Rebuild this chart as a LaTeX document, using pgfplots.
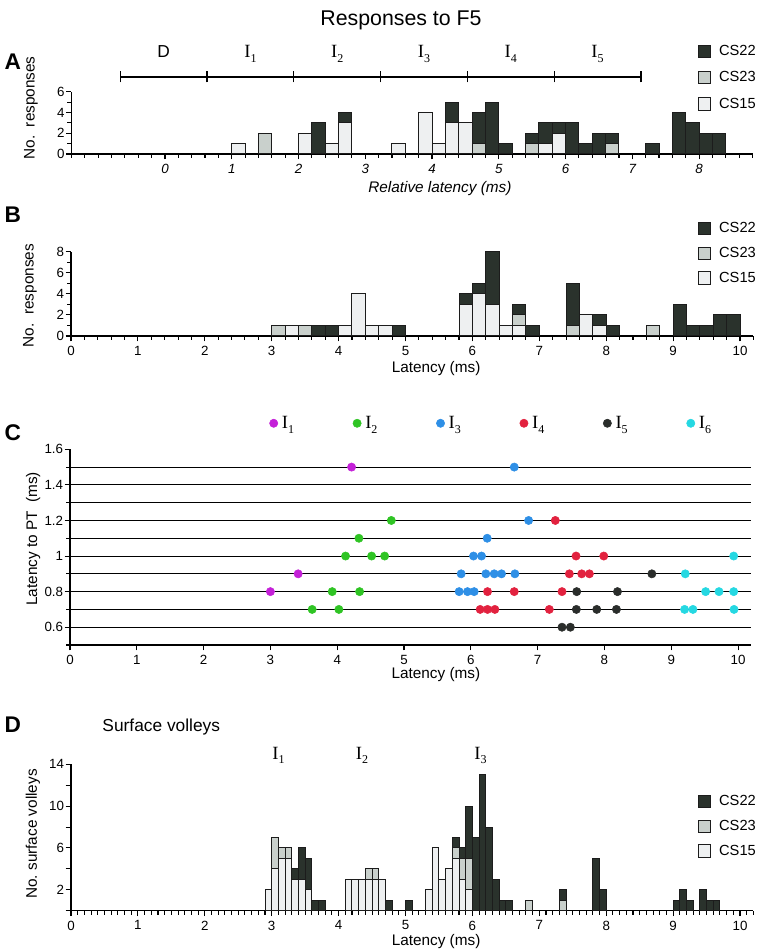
\documentclass[border=0pt]{standalone}
\usepackage{fontspec}
\setmainfont{Liberation Sans}
\newfontfamily\serif{Liberation Serif}
\usepackage{pgfplots}
\usepackage{pgfplotstable}
\pgfplotsset{compat=1.18}

\definecolor{cdark}{HTML}{2A322C}
\definecolor{cmid}{HTML}{C9D0CC}
\definecolor{clight}{HTML}{EEF0F1}
\definecolor{cedge}{HTML}{1C1C1C}
\definecolor{cIa}{HTML}{C420D8}
\definecolor{cIb}{HTML}{2FC424}
\definecolor{cIc}{HTML}{2E8FE6}
\definecolor{cId}{HTML}{E2223F}
\definecolor{cIe}{HTML}{2A2D2B}
\definecolor{cIf}{HTML}{25D8E2}

\newcommand{\Isub}[1]{{\serif\fontsize{14}{14}\selectfont I\raisebox{-3.6pt}[0pt][0pt]{\fontsize{9}{9}\selectfont #1}}}

% Panel A: relative latency, 0.2 ms bins (bin centres)
\pgfplotstableread{
x c15 c23 c22
1.1 1 0 0
1.5 0 2 0
2.1 2 0 0
2.3 0 0 3
2.5 1 0 0
2.7 3 0 1
3.5 1 0 0
3.9 4 0 0
4.1 1 0 0
4.3 3 0 2
4.5 3 0 0
4.7 0 1 3
4.9 0 0 5
5.1 0 0 1
5.5 0 1 1
5.7 1 0 2
5.9 2 0 1
6.1 0 0 3
6.3 0 0 1
6.5 0 0 2
6.7 0 1 1
7.3 0 0 1
7.7 0 0 4
7.9 0 0 3
8.1 0 0 2
8.3 0 0 2
}\dataA

% Panel B: latency, 0.2 ms bins
\pgfplotstableread{
x c15 c23 c22
3.1 0 1 0
3.3 1 0 0
3.5 0 1 0
3.7 0 0 1
3.9 0 0 1
4.1 1 0 0
4.3 4 0 0
4.5 1 0 0
4.7 1 0 0
4.9 0 0 1
5.9 3 0 1
6.1 4 0 1
6.3 3 0 5
6.5 1 0 0
6.7 1 1 1
6.9 0 0 1
7.5 0 1 4
7.7 2 0 0
7.9 1 0 1
8.1 0 0 1
8.7 0 1 0
9.1 0 0 3
9.3 0 0 1
9.5 0 0 1
9.7 0 0 2
9.9 0 0 2
}\dataB

% Panel D: surface volleys, 0.1 ms bins
\pgfplotstableread{
x c15 c23 c22
2.95 2 0 0
3.05 4 3 0
3.15 5 1 0
3.25 5 1 0
3.35 3 0 1
3.45 3 0 3
3.55 2 0 3
3.65 0 0 1
3.75 0 0 1
4.15 3 0 0
4.25 3 0 0
4.35 3 0 0
4.45 3 1 0
4.55 3 1 0
4.65 3 0 0
4.75 0 0 1
5.05 0 0 1
5.35 2 0 0
5.45 6 0 0
5.55 3 0 0
5.65 4 0 0
5.75 5 1 1
5.85 3 2 1
5.95 2 3 5
6.05 0 0 7
6.15 0 0 13
6.25 0 0 8
6.35 0 0 3
6.45 0 0 1
6.55 0 0 1
6.85 0 1 0
7.35 0 1 1
7.85 0 0 5
7.95 0 0 2
9.05 0 0 1
9.15 0 0 2
9.25 0 0 1
9.45 0 0 2
9.55 0 0 1
9.65 0 0 1
}\dataD

\pgfplotsset{
  panel/.style={
    scale only axis, anchor=south west,
    axis lines=left, axis line style={-, line width=0.85pt, black},
    tick align=outside, major tick length=4pt, minor tick length=3pt,
    tick style={black, line width=0.8pt},
    /pgf/number format/assume math mode=true,
    tick label style={font=\fontsize{10}{12}\selectfont},
    yticklabel style={inner xsep=1pt},
    label style={font=\fontsize{11.5}{13}\selectfont},
    clip=false,
  },
  barpanel/.style={panel, ybar stacked, bar width=#1,
    legend image code/.code={\draw[##1, line width=0.75pt] (0pt,-4.6pt) rectangle (8.8pt,4.6pt);},
    reverse legend, legend cell align=left,
  },
  barleg/.style 2 args={legend style={at={(#1)}, anchor=north west, draw=none, fill=none,
    inner sep=0pt, row sep=#2, font=\fontsize{11}{13}\selectfont, nodes={inner sep=1pt},
    /tikz/every odd column/.append style={column sep=5pt}}},
}

\begin{document}
\begin{tikzpicture}[x=0.75pt,y=0.75pt]
\path[use as bounding box] (0,0) rectangle (760,951);

\node[font=\fontsize{16}{18}\selectfont] at (401,931) {Responses to F5};
\node[font=\bfseries\fontsize{17}{17}\selectfont, anchor=west] at (0,889) {A};
\node[font=\bfseries\fontsize{17}{17}\selectfont, anchor=west] at (0,736) {B};
\node[font=\bfseries\fontsize{17}{17}\selectfont, anchor=west] at (0,518) {C};
\node[font=\bfseries\fontsize{17}{17}\selectfont, anchor=west] at (0,226) {D};

% ---------------- A ----------------
\begin{axis}[barpanel=0.2, at={(53.625pt,597.75pt)}, width=510.75pt, height=46.725pt,
  xmin=-1.4, xmax=8.8, ymin=0, ymax=6,
  xtick={0,1,...,8}, minor xtick={-1.4,-1.2,...,8.8},
  ytick={0,2,4,6}, minor ytick={1,3,5},
  xticklabel style={font=\itshape\fontsize{10}{12}\selectfont},
  xlabel={\itshape Relative latency (ms)}, ylabel={No.\ \ responses},
  xlabel style={at={(axis description cs:0.541,-0.56)}, anchor=center},
  ylabel style={at={(axis description cs:-0.0595,0.74)}, anchor=center},
  barleg={0.92,1.77}{8.5pt},
]
\addplot[fill=clight, draw=cedge, line width=0.75pt] table[x=x,y=c15]{\dataA};
\addlegendentry{CS15}
\addplot[fill=cmid, draw=cedge, line width=0.75pt] table[x=x,y=c23]{\dataA};
\addlegendentry{CS23}
\addplot[fill=cdark, draw=cedge, line width=0.75pt] table[x=x,y=c22]{\dataA};
\addlegendentry{CS22}
\draw[black, line width=0.9pt] (axis cs:-0.67,7.42) -- (axis cs:7.13,7.42);
\pgfplotsinvokeforeach{-0.67,0.63,1.93,3.23,4.53,5.83,7.13}{
  \draw[black, line width=0.9pt] (axis cs:#1,6.9) -- (axis cs:#1,7.95);
}
\node[font=\fontsize{13}{13}\selectfont] at (axis cs:-0.02,9.9) {D};
\node at (axis cs:1.28,9.9) {\Isub{1}};
\node at (axis cs:2.58,9.9) {\Isub{2}};
\node at (axis cs:3.88,9.9) {\Isub{3}};
\node at (axis cs:5.18,9.9) {\Isub{4}};
\node at (axis cs:6.48,9.9) {\Isub{5}};
\end{axis}

% ---------------- B ----------------
\begin{axis}[barpanel=0.2, at={(53.25pt,461.25pt)}, width=511.8pt, height=63.225pt,
  xmin=0, xmax=10.2, ymin=0, ymax=8,
  xtick={0,1,...,10}, minor xtick={0,0.2,...,10.2},
  ytick={0,2,4,6,8}, minor ytick={1,3,5,7},
  xlabel={Latency (ms)}, ylabel={No.\ \ responses},
  xlabel style={at={(axis description cs:0.535,-0.39)}, anchor=center},
  ylabel style={at={(axis description cs:-0.06,0.48)}, anchor=center},
  barleg={0.919,1.368}{7.4pt},
]
\addplot[fill=clight, draw=cedge, line width=0.75pt] table[x=x,y=c15]{\dataB};
\addlegendentry{CS15}
\addplot[fill=cmid, draw=cedge, line width=0.75pt] table[x=x,y=c23]{\dataB};
\addlegendentry{CS23}
\addplot[fill=cdark, draw=cedge, line width=0.75pt] table[x=x,y=c22]{\dataB};
\addlegendentry{CS22}
\end{axis}

% ---------------- C ----------------
\begin{axis}[panel, at={(52.5pt,229.5pt)}, width=511.05pt, height=146.775pt,
  xmin=0, xmax=10.2, ymin=0.5, ymax=1.6,
  xtick={0,1,...,10},
  ytick={0.6,0.8,1,1.2,1.4,1.6}, minor ytick={0.5,0.7,0.9,1.1,1.3,1.5},
  xlabel={Latency (ms)}, ylabel={Latency to PT\ \ (ms)},
  xlabel style={at={(axis description cs:0.537,-0.15)}, anchor=center},
  ylabel style={at={(axis description cs:-0.054,0.542)}, anchor=center},
  legend columns=6,
  legend style={at={(0.2925,1.133)}, anchor=west, draw=none, fill=none, inner sep=0pt,
    nodes={inner sep=1pt},
    /tikz/every odd column/.append style={column sep=2pt},
    /tikz/every even column/.append style={column sep=43.2pt}},
  legend image code/.code={\draw[#1] plot coordinates {(3.1pt,0pt)};},
  legend cell align=left,
]
\pgfplotsinvokeforeach{0.6,0.7,0.8,0.9,1.0,1.1,1.2,1.3,1.4,1.5}{
  \addplot[black, line width=0.8pt, forget plot] coordinates {(0,#1) (10.2,#1)};
}
\addplot[only marks, mark=*, mark size=3.1pt, color=cIa, mark options={fill=cIa, draw=cIa}]
  coordinates {(4.215,1.5) (3.415,0.9) (3.0,0.8)};
\addlegendentry{\Isub{1}}
\addplot[only marks, mark=*, mark size=3.1pt, color=cIb, mark options={fill=cIb, draw=cIb}]
  coordinates {(4.81,1.2) (4.325,1.1) (4.125,1.0) (4.515,1.0) (4.71,1.0) (3.925,0.8) (4.335,0.8) (3.625,0.7) (4.025,0.7)};
\addlegendentry{\Isub{2}}
\addplot[only marks, mark=*, mark size=3.1pt, color=cIc, mark options={fill=cIc, draw=cIc}]
  coordinates {(6.65,1.5) (6.865,1.2) (6.245,1.1) (6.04,1.0) (6.16,1.0) (5.855,0.9) (6.225,0.9) (6.35,0.9) (6.46,0.9) (6.66,0.9) (5.825,0.8) (5.95,0.8) (6.05,0.8)};
\addlegendentry{\Isub{3}}
\addplot[only marks, mark=*, mark size=3.1pt, color=cId, mark options={fill=cId, draw=cId}]
  coordinates {(7.265,1.2) (7.575,1.0) (7.99,1.0) (7.475,0.9) (7.66,0.9) (7.775,0.9) (6.25,0.8) (6.65,0.8) (7.365,0.8) (6.14,0.7) (6.25,0.7) (6.36,0.7) (7.175,0.7)};
\addlegendentry{\Isub{4}}
\addplot[only marks, mark=*, mark size=3.1pt, color=cIe, mark options={fill=cIe, draw=cIe}]
  coordinates {(8.71,0.9) (7.585,0.8) (8.195,0.8) (7.58,0.7) (7.885,0.7) (8.18,0.7) (7.365,0.6) (7.49,0.6)};
\addlegendentry{\Isub{5}}
\addplot[only marks, mark=*, mark size=3.1pt, color=cIf, mark options={fill=cIf, draw=cIf}]
  coordinates {(9.935,1.0) (9.21,0.9) (9.515,0.8) (9.715,0.8) (9.935,0.8) (9.2,0.7) (9.325,0.7) (9.94,0.7)};
\addlegendentry{\Isub{6}}
\end{axis}

% ---------------- D ----------------
\begin{axis}[barpanel=0.1, at={(53.25pt,30.225pt)}, width=511.8pt, height=109.8pt,
  xmin=0, xmax=10.2, ymin=0, ymax=14,
  xtick={0,1,...,10}, minor xtick={0,0.1,...,10.2},
  ytick={0,2,...,14}, yticklabels={{},2,{},6,{},10,{},14},
  xlabel={Latency (ms)}, ylabel={No.\ surface volleys},
  xlabel style={at={(axis description cs:0.535,-0.214)}, anchor=center},
  ylabel style={at={(axis description cs:-0.0557,0.524)}, anchor=center},
  barleg={0.919,0.799}{7.4pt},
]
\addplot[fill=clight, draw=cedge, line width=0.75pt] table[x=x,y=c15]{\dataD};
\addlegendentry{CS15}
\addplot[fill=cmid, draw=cedge, line width=0.75pt] table[x=x,y=c23]{\dataD};
\addlegendentry{CS23}
\addplot[fill=cdark, draw=cedge, line width=0.75pt] table[x=x,y=c22]{\dataD};
\addlegendentry{CS22}
\node[font=\fontsize{13}{15}\selectfont, anchor=west] at (axis cs:0.4,17.57) {Surface volleys};
\node at (axis cs:3.1,15.08) {\Isub{1}};
\node at (axis cs:4.35,15.08) {\Isub{2}};
\node at (axis cs:6.12,15.08) {\Isub{3}};
\end{axis}
\end{tikzpicture}
\end{document}
